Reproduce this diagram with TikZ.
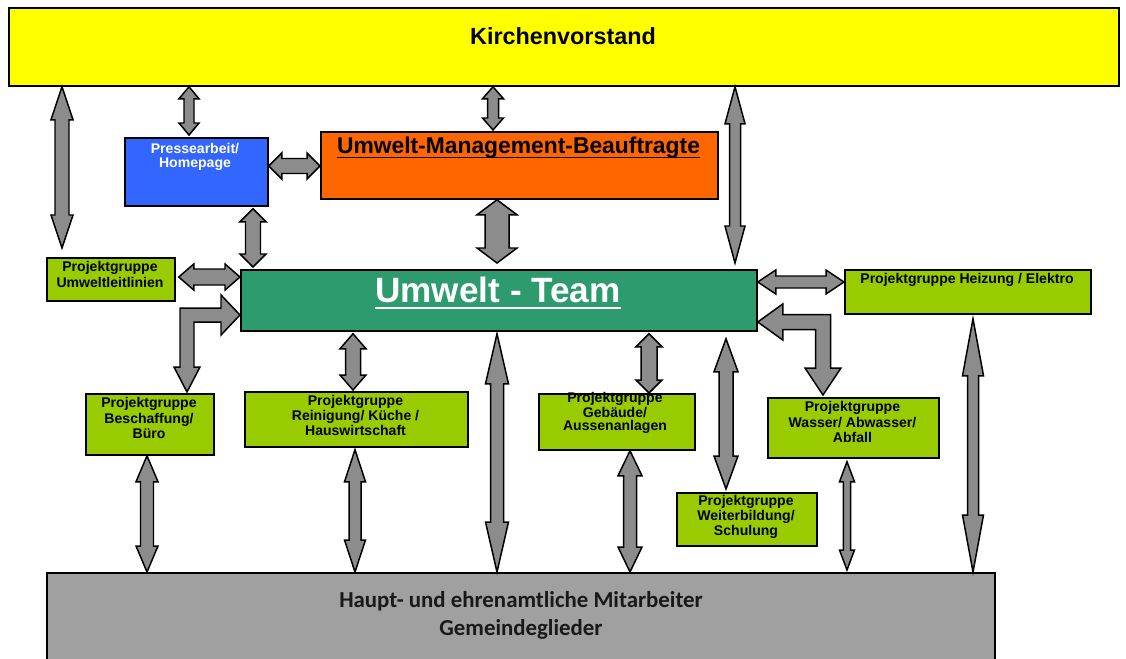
\documentclass[tikz,border=0pt]{standalone}
\usepackage{fontspec}
\setmainfont{Liberation Sans}
\newfontfamily\calibri{Carlito}
\usetikzlibrary{calc}

\definecolor{kvyellow}{RGB}{255,255,0}
\definecolor{pressblue}{RGB}{51,102,255}
\definecolor{umborange}{RGB}{255,102,0}
\definecolor{teamgreen}{RGB}{46,155,110}
\definecolor{pggreen}{RGB}{153,204,0}
\definecolor{mitgray}{RGB}{160,160,160}
\definecolor{arrowgray}{RGB}{140,140,140}
\definecolor{mittext}{RGB}{25,25,25}

\newcommand{\pxu}{0.02cm}

% thick underline: depth, thickness, text
\newcommand{\ulthick}[3]{\begingroup\setbox0\hbox{#3}\rlap{\rule[-#1]{\wd0}{#2}}\box0\endgroup}

\tikzset{
  box/.style={draw=black, line width=1pt, anchor=north west, inner sep=0pt},
  pgbox/.style={box, fill=pggreen},
  pgtext/.style={align=center, inner sep=0pt, font=\fontsize{8}{8.6}\selectfont\bfseries},
  fatarrow/.style={draw=black, line width=0.85pt, fill=arrowgray, line join=miter},
}

% vertical double arrow: top, bottom, shaft half width, head half width, head length
\newcommand{\vdarrow}[5]{%
  \coordinate (fa) at (#1);
  \coordinate (fb) at (#2);
  \draw[fatarrow] (fa) -- ($(fa)+(#4,#5)$) -- ($(fa)+(#3,#5)$) -- ($(fb)+(#3,-#5)$)
    -- ($(fb)+(#4,-#5)$) -- (fb) -- ($(fb)+(-#4,-#5)$) -- ($(fb)+(-#3,-#5)$)
    -- ($(fa)+(-#3,#5)$) -- ($(fa)+(-#4,#5)$) -- cycle;}

% horizontal double arrow: left, right, shaft half width, head half width, head length
\newcommand{\hdarrow}[5]{%
  \coordinate (fa) at (#1);
  \coordinate (fb) at (#2);
  \draw[fatarrow] (fa) -- ($(fa)+(#5,-#4)$) -- ($(fa)+(#5,-#3)$) -- ($(fb)+(-#5,-#3)$)
    -- ($(fb)+(-#5,-#4)$) -- (fb) -- ($(fb)+(-#5,#4)$) -- ($(fb)+(-#5,#3)$)
    -- ($(fa)+(#5,#3)$) -- ($(fa)+(#5,#4)$) -- cycle;}

% elbow arrow: horizontal tip, lower tip, shaft half width,
% head half width / length (horizontal), head half width / length (lower), side (+1 right, -1 left)
\newcommand{\elbowarrow}[8]{%
  \coordinate (fa) at (#1);
  \coordinate (fb) at (#2);
  \coordinate (fk) at (fb |- fa);
  \draw[fatarrow] (fa) -- ($(fa)+({-1*(#8)*(#5)},-#4)$) -- ($(fa)+({-1*(#8)*(#5)},-#3)$)
    -- ($(fk)+({-1*(#8)*(#3)},-#3)$) -- ($(fb)+({-1*(#8)*(#3)},-#7)$)
    -- ($(fb)+({-1*(#8)*(#6)},-#7)$) -- (fb) -- ($(fb)+({(#8)*(#6)},-#7)$)
    -- ($(fb)+({(#8)*(#3)},-#7)$) -- ($(fk)+({(#8)*(#3)},#3)$)
    -- ($(fa)+({-1*(#8)*(#5)},#3)$) -- ($(fa)+({-1*(#8)*(#5)},#4)$) -- cycle;}

\begin{document}
\begin{tikzpicture}[x=0.02cm, y=-0.02cm]
\useasboundingbox (0,0) rectangle (1126,659);

% boxes
\node[box, fill=kvyellow, minimum width=1110*\pxu, minimum height=78*\pxu] (kv) at (8,7) {};
\node[box, fill=pressblue, minimum width=143*\pxu, minimum height=68*\pxu] (press) at (124,137) {};
\node[box, fill=umborange, minimum width=397*\pxu, minimum height=67*\pxu] (umb) at (320,131) {};
\node[box, fill=teamgreen, minimum width=516*\pxu, minimum height=61*\pxu] (team) at (240,269) {};
\node[pgbox, minimum width=128*\pxu, minimum height=43*\pxu] (leit) at (46,257) {};
\node[pgbox, minimum width=246*\pxu, minimum height=44*\pxu] (heiz) at (844,269) {};
\node[pgbox, minimum width=128*\pxu, minimum height=61*\pxu] (besch) at (85,393) {};
\node[pgbox, minimum width=223*\pxu, minimum height=55*\pxu] (rein) at (244,391) {};
\node[pgbox, minimum width=156*\pxu, minimum height=56*\pxu] (geb) at (538,393) {};
\node[pgbox, minimum width=140*\pxu, minimum height=53*\pxu] (weit) at (676,492) {};
\node[pgbox, minimum width=171*\pxu, minimum height=60*\pxu] (wass) at (767,397) {};
\node[box, fill=mitgray, minimum width=948*\pxu, minimum height=100*\pxu] (mit) at (46,572) {};

% texts
\node[inner sep=0pt, font=\fontsize{13.3}{15}\selectfont\bfseries] (kvtext) at (563,36) {Kirchenvorstand};
\node[pgtext, text=white, font=\fontsize{8}{7.6}\selectfont\bfseries] (presstext) at (195,157) {Pressearbeit/\\Homepage};
\node[inner sep=0pt, anchor=base, font=\fontsize{13}{15}\selectfont\bfseries] (umbtext) at (518.5,153)
  {\ulthick{2.7pt}{0.7pt}{Umwelt-Management-Beauftragte}};
\node[inner sep=0pt, anchor=base, text=white, font=\fontsize{20}{22}\selectfont\bfseries] (teamtext) at (498,302)
  {\ulthick{4.1pt}{1.4pt}{Umwelt - Team}};
\node[pgtext] (leittext) at (110,274.5) {Projektgruppe\\Umweltleitlinien};
\node[pgtext, anchor=base] (heiztext) at (967,283) {Projektgruppe Heizung / Elektro};
\node[pgtext] (beschtext) at (149,418) {Projektgruppe\\Beschaffung/\\Büro};
\node[pgtext] (reintext) at (355.5,415.5) {Projektgruppe\\Reinigung/ Küche /\\Hauswirtschaft};
\node[pgtext, font=\fontsize{8}{7.2}\selectfont\bfseries] (gebtext) at (615,413) {Projektgruppe\\Gebäude/\\Aussenanlagen};
\node[pgtext] (weittext) at (746,517) {Projektgruppe\\Weiterbildung/\\Schulung};
\node[pgtext] (wasstext) at (852.5,422) {Projektgruppe\\Wasser/ Abwasser/\\Abfall};
\node[align=center, inner sep=0pt, text=mittext, font=\calibri\bfseries\fontsize{13}{16}\selectfont] (mittext) at (521,615)
  {Haupt- und ehrenamtliche Mitarbeiter\\Gemeindeglieder};

% arrows
\vdarrow{kv.south -| 62,0}{$(leit.north -| 62,0)+(0,-9)$}{7}{11}{33}
\vdarrow{kv.south -| 189,0}{$(press.north -| 189,0)+(0,-2)$}{5}{10}{12}
\vdarrow{kv.south -| 493,0}{$(umb.north -| 493,0)+(0,-1)$}{5.5}{10.5}{12}
\hdarrow{press.east |- 0,166}{umb.west |- 0,166}{7.5}{13}{13}
\vdarrow{$(press.south -| 253,0)+(0,2)$}{$(team.north -| 253,0)+(0,-2)$}{7.5}{13}{13}
\hdarrow{$(leit.east |- 0,277)+(3,0)$}{team.west |- 0,277}{8}{13}{15}
\vdarrow{umb.south -| 497,0}{$(team.north -| 497,0)+(0,-6)$}{12}{20}{15}
\vdarrow{kv.south -| 735,0}{$(team.north -| 735,0)+(0,-6)$}{5.5}{10}{37}
\hdarrow{team.east |- 0,282}{heiz.west |- 0,282}{6}{12}{18}
\elbowarrow{team.east |- 0,322}{$(wass.north -| 823,0)+(0,-2)$}{7.5}{18}{25}{18}{27}{-1}
\elbowarrow{team.west |- 0,315}{$(besch.north -| 187,0)+(0,-1)$}{7}{20}{19}{13}{25}{1}
\vdarrow{$(team.south -| 353,0)+(0,2)$}{$(rein.north -| 353,0)+(0,-1)$}{7.5}{13}{15}
\vdarrow{$(team.south -| 497,0)+(0,2)$}{mit.north -| 497,0}{6.5}{11.5}{50}
\vdarrow{besch.south -| 147,0}{mit.north -| 147,0}{6.5}{11}{26}
\vdarrow{$(rein.south -| 355,0)+(0,2)$}{mit.north -| 355,0}{6}{10.5}{32}
\vdarrow{$(team.south -| 649,0)+(0,2)$}{geb.north -| 649,0}{8}{13}{13}
\vdarrow{$(team.south -| 726,0)+(0,7)$}{$(weit.north -| 726,0)+(0,-3)$}{7}{12}{33}
\vdarrow{geb.south -| 630,0}{mit.north -| 630,0}{6.5}{12}{25}
\vdarrow{$(wass.south -| 847,0)+(0,3)$}{$(mit.north -| 847,0)+(0,-2)$}{3.7}{7.5}{20}
\vdarrow{$(heiz.south -| 973,0)+(0,4)$}{mit.north -| 973,0}{5.5}{10.5}{57}
\end{tikzpicture}
\end{document}
